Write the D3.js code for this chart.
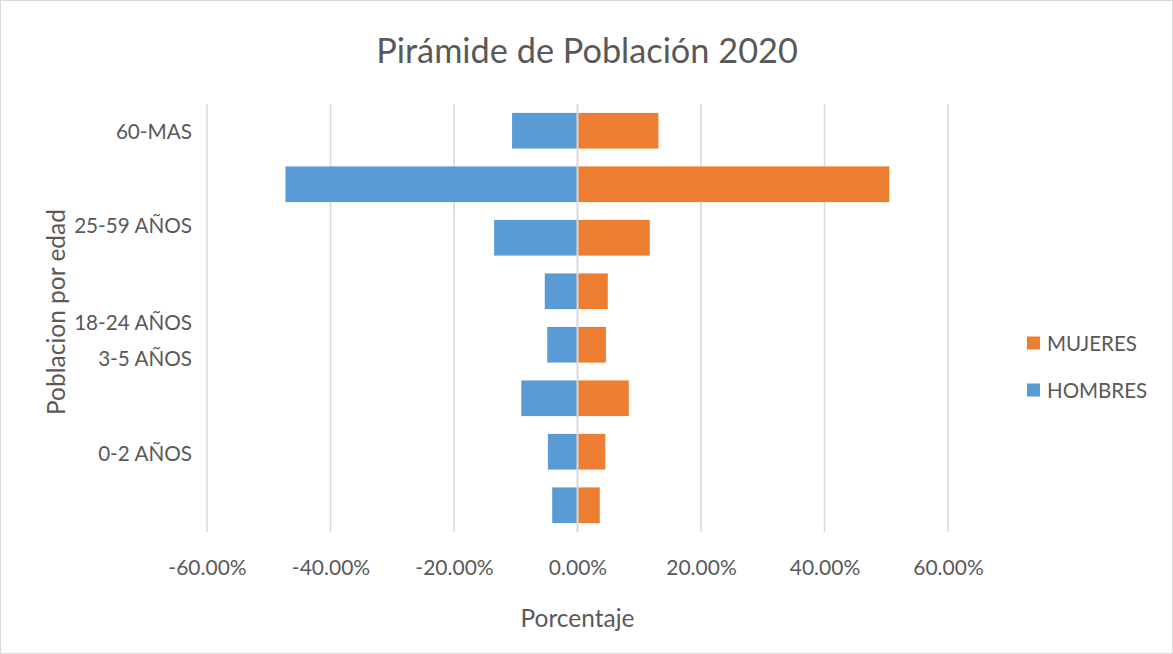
<!DOCTYPE html>
<html>
<head>
<meta charset="utf-8">
<script src="https://cdn.jsdelivr.net/npm/d3@7"></script>
<style>
  html, body { margin: 0; padding: 0; background: #fff; }
  svg { display: block; font-family: Lato, "Open Sans", sans-serif; }
</style>
</head>
<body>
<svg id="chart" width="1173" height="654"></svg>
<script>
// ---- data ----
const barIndex = [0, 1, 2, 3, 4, 5, 6, 7];
const hombres = [-0.106, -0.473, -0.135, -0.053, -0.049, -0.091, -0.048, -0.041];
const mujeres = [0.131, 0.505, 0.117, 0.049, 0.046, 0.083, 0.045, 0.036];
const ageLabels = ["60-MAS", "25-59 AÑOS", "18-24 AÑOS", "3-5 AÑOS", "0-2 AÑOS"];
const ageLabelAt = [0, 1.76, 3.57, 4.24, 6.03];
const xTicks = [-0.6, -0.4, -0.2, 0, 0.2, 0.4, 0.6];
const seriesNames = ["MUJERES", "HOMBRES"];
const seriesColors = ["#ED7D31", "#5B9BD5"];

const svg = d3.select("#chart");
const W = 1173, H = 654;
const plot = { left: 207, right: 948, top: 104, bottom: 532 };
const textColor = "#595959";
const gridColor = "#d9d9d9";

svg.append("rect").attr("x", 0.5).attr("y", 0.5).attr("width", W - 1).attr("height", H - 1)
  .attr("fill", "#fff").attr("stroke", "#d9d9d9");

const x = d3.scaleLinear().domain([-0.6, 0.6]).range([plot.left, plot.right]);
const y = d3.scaleBand().domain(barIndex).range([plot.top, plot.bottom])
  .paddingInner(0.333).paddingOuter(0.1665);
const yLab = d3.scaleLinear().domain([0, 7])
  .range([y(0) + y.bandwidth() / 2, y(7) + y.bandwidth() / 2]);

const locale = d3.formatLocale({ decimal: ".", thousands: ",", grouping: [3], currency: ["", ""], minus: "-" });
const fmt = locale.format(".2%");

// gridlines
svg.append("g").selectAll("line").data(xTicks.filter(d => d !== 0)).join("line")
  .attr("x1", d => x(d)).attr("x2", d => x(d))
  .attr("y1", plot.top).attr("y2", plot.bottom)
  .attr("stroke", gridColor).attr("stroke-width", 1.5);

// bars
svg.append("g").selectAll("rect").data(barIndex).join("rect")
  .attr("x", i => x(hombres[i])).attr("width", i => x(0) - x(hombres[i]))
  .attr("y", i => y(i)).attr("height", y.bandwidth())
  .attr("fill", seriesColors[1]);
svg.append("g").selectAll("rect").data(barIndex).join("rect")
  .attr("x", x(0)).attr("width", i => x(mujeres[i]) - x(0))
  .attr("y", i => y(i)).attr("height", y.bandwidth())
  .attr("fill", seriesColors[0]);

// zero line on top
svg.append("line").attr("x1", x(0)).attr("x2", x(0))
  .attr("y1", plot.top).attr("y2", plot.bottom)
  .attr("stroke", gridColor).attr("stroke-width", 2);

// x axis
const xAxis = d3.axisBottom(x).tickValues(xTicks).tickFormat(fmt).tickSize(0).tickPadding(0);
const gx = svg.append("g").attr("transform", `translate(0,${plot.bottom})`).call(xAxis);
gx.select(".domain").remove();
gx.selectAll("text").attr("fill", textColor).attr("font-size", 21)
  .attr("font-family", "Lato, sans-serif")
  .attr("dy", null).attr("y", 34).attr("dominant-baseline", "central");

// y labels
svg.append("g").selectAll("text").data(ageLabels).join("text")
  .attr("x", 192).attr("y", (d, i) => yLab(ageLabelAt[i]))
  .attr("text-anchor", "end").attr("dominant-baseline", "central")
  .attr("fill", textColor).attr("font-size", 20.7).text(d => d);

// titles
svg.append("text").attr("x", 587).attr("y", 49).attr("text-anchor", "middle")
  .attr("dominant-baseline", "central").attr("fill", textColor).attr("font-size", 34.3)
  .text("Pirámide de Población 2020");
svg.append("text").attr("x", x(0)).attr("y", 617).attr("text-anchor", "middle")
  .attr("dominant-baseline", "central").attr("fill", textColor).attr("font-size", 24.5)
  .text("Porcentaje");
svg.append("text").attr("transform", "translate(55,312) rotate(-90)")
  .attr("text-anchor", "middle").attr("dominant-baseline", "central")
  .attr("fill", textColor).attr("font-size", 24.5).text("Poblacion por edad");

// legend
const leg = svg.append("g").selectAll("g").data(seriesNames).join("g")
  .attr("transform", (d, i) => `translate(1027,${343 + i * 47})`);
leg.append("rect").attr("x", 0).attr("y", -6.5).attr("width", 13).attr("height", 13)
  .attr("fill", (d, i) => seriesColors[i]);
leg.append("text").attr("x", 20).attr("y", 0).attr("dominant-baseline", "central")
  .attr("fill", textColor).attr("font-size", 20.5).text(d => d);
</script>
</body>
</html>
